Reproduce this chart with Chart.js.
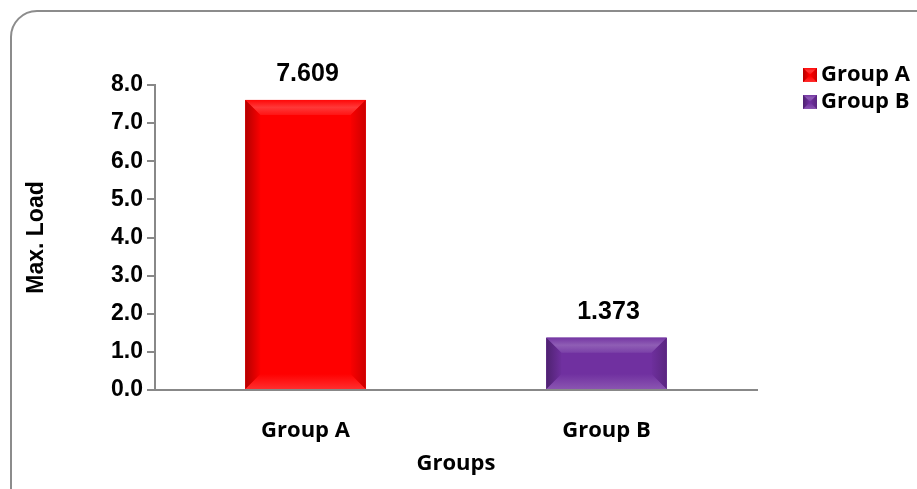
<!DOCTYPE html>
<html>
<head>
<meta charset="utf-8">
<script src="https://cdn.jsdelivr.net/npm/chart.js@4/dist/chart.umd.min.js"></script>
<style>
html,body{margin:0;padding:0;background:#fff;}
#wrap{width:917px;height:489px;position:relative;}
</style>
</head>
<body>
<div id="wrap"><canvas id="c"></canvas></div>
<script>
const categories = ['Group A', 'Group B'];
const seriesNames = ['Group A', 'Group B'];
const maxLoad = [7.609, 1.373];
const valueLabels = ['7.609', '1.373'];
const yTicks = [0, 1, 2, 3, 4, 5, 6, 7, 8];
const barColors = ['#FF0000', '#7030A0'];

const numFont = {family: '"Liberation Sans", Arial, sans-serif', weight: 'bold', size: 23};
const lblFont = {family: '"Liberation Sans", Arial, sans-serif', weight: 'bold', size: 25};
const txtFont = {family: '"Open Sans", "Noto Sans", sans-serif', weight: 'bold', size: 22};

function shade(hex, amt) {
  const n = parseInt(hex.slice(1), 16);
  let r = (n >> 16) & 255, g = (n >> 8) & 255, b = n & 255;
  const f = c => Math.max(0, Math.min(255, Math.round(amt < 0 ? c * (1 + amt) : c + (255 - c) * amt)));
  return `rgb(${f(r)},${f(g)},${f(b)})`;
}

function bevel(ctx, x0, y0, x1, y1, color, s) {
  ctx.save();
  ctx.fillStyle = color;
  ctx.fillRect(x0, y0, x1 - x0, y1 - y0);
  s = Math.min(s, (x1 - x0) / 2, (y1 - y0) / 2);
  let g = ctx.createLinearGradient(0, y0, 0, y0 + s);
  g.addColorStop(0, shade(color, 0.03));
  g.addColorStop(0.5, shade(color, 0.22));
  g.addColorStop(1, shade(color, 0.08));
  ctx.fillStyle = g;
  ctx.beginPath(); ctx.moveTo(x0, y0); ctx.lineTo(x1, y0); ctx.lineTo(x1 - s, y0 + s); ctx.lineTo(x0 + s, y0 + s); ctx.closePath(); ctx.fill();
  g = ctx.createLinearGradient(0, y1 - s, 0, y1);
  g.addColorStop(0, shade(color, 0.0));
  g.addColorStop(1, shade(color, 0.18));
  ctx.fillStyle = g;
  ctx.beginPath(); ctx.moveTo(x0, y1); ctx.lineTo(x1, y1); ctx.lineTo(x1 - s, y1 - s); ctx.lineTo(x0 + s, y1 - s); ctx.closePath(); ctx.fill();
  g = ctx.createLinearGradient(x0, 0, x0 + s, 0);
  g.addColorStop(0, shade(color, -0.3));
  g.addColorStop(1, shade(color, -0.02));
  ctx.fillStyle = g;
  ctx.beginPath(); ctx.moveTo(x0, y0); ctx.lineTo(x0 + s, y0 + s); ctx.lineTo(x0 + s, y1 - s); ctx.lineTo(x0, y1); ctx.closePath(); ctx.fill();
  g = ctx.createLinearGradient(x1 - s, 0, x1, 0);
  g.addColorStop(0, shade(color, -0.02));
  g.addColorStop(1, shade(color, -0.2));
  ctx.fillStyle = g;
  ctx.beginPath(); ctx.moveTo(x1, y0); ctx.lineTo(x1 - s, y0 + s); ctx.lineTo(x1 - s, y1 - s); ctx.lineTo(x1, y1); ctx.closePath(); ctx.fill();
  ctx.restore();
}

const framePlugin = {
  id: 'frame',
  beforeDraw(chart) {
    const ctx = chart.ctx;
    ctx.save();
    ctx.fillStyle = '#fff';
    ctx.fillRect(0, 0, chart.width, chart.height);
    ctx.strokeStyle = '#8c8c8c';
    ctx.lineWidth = 2;
    ctx.beginPath();
    ctx.roundRect(11, 11, chart.width + 40, chart.height + 40, 26);
    ctx.stroke();
    ctx.restore();
  }
};

const barPlugin = {
  id: 'bevelBars',
  afterDatasetsDraw(chart) {
    const ctx = chart.ctx;
    const meta = chart.getDatasetMeta(0);
    meta.data.forEach((bar, i) => {
      const p = bar.getProps(['x', 'y', 'base', 'width'], true);
      const x0 = p.x - p.width / 2, x1 = p.x + p.width / 2;
      bevel(ctx, x0, p.y, x1, p.base, barColors[i], 15);
      ctx.save();
      ctx.fillStyle = '#000';
      ctx.font = `${lblFont.weight} ${lblFont.size}px ${lblFont.family}`;
      ctx.textAlign = 'center';
      ctx.textBaseline = 'middle';
      ctx.fillText(valueLabels[i], p.x + 2, p.y - 26);
      ctx.restore();
    });
  }
};

const legendPlugin = {
  id: 'sideLegend',
  afterDraw(chart) {
    const ctx = chart.ctx;
    ctx.save();
    ctx.font = `${txtFont.weight} ${txtFont.size}px ${txtFont.family}`;
    ctx.textBaseline = 'middle';
    seriesNames.forEach((name, i) => {
      const cy = 75 + i * 27;
      bevel(ctx, 803, cy - 7, 817, cy + 7, barColors[i], 6);
      ctx.fillStyle = '#000';
      ctx.fillText(name, 821, cy);
    });
    ctx.restore();
  }
};

new Chart(document.getElementById('c'), {
  type: 'bar',
  data: {
    labels: categories,
    datasets: [{
      label: 'Max. Load',
      data: maxLoad,
      backgroundColor: barColors,
      borderWidth: 0,
      barPercentage: 0.4,
      categoryPercentage: 1.0
    }]
  },
  options: {
    responsive: true,
    maintainAspectRatio: false,
    animation: false,
    devicePixelRatio: 1,
    layout: {padding: {left: 12, right: 160, top: 85, bottom: 12}},
    plugins: {
      legend: {display: false},
      tooltip: {enabled: false}
    },
    scales: {
      x: {
        grid: {display: false, drawTicks: false},
        border: {color: '#888', width: 2},
        ticks: {color: '#000', font: txtFont, padding: 28},
        title: {display: true, text: 'Groups', color: '#000', font: txtFont, padding: {top: 0, bottom: 0}},
        afterFit(scale) { scale.height = 489 - 390 - 12; }
      },
      y: {
        min: 0,
        max: 8,
        afterBuildTicks(scale) { scale.ticks = yTicks.map(v => ({value: v})); },
        grid: {drawOnChartArea: false, drawTicks: true, tickLength: 8, color: '#888', lineWidth: 2},
        border: {color: '#888', width: 2},
        ticks: {color: '#000', font: numFont, padding: 4, callback: v => Number(v).toFixed(1)},
        title: {display: true, text: 'Max. Load', color: '#000', font: {family: numFont.family, weight: 'bold', size: 23}, padding: {top: 11, bottom: 8}},
        afterFit(scale) { scale.width = 155 - 12; }
      }
    }
  },
  plugins: [framePlugin, barPlugin, legendPlugin]
});
</script>
</body>
</html>
